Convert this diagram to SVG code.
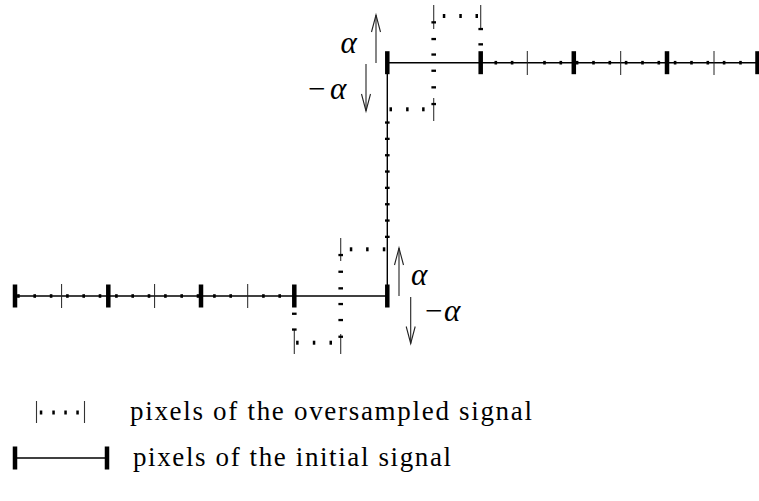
<svg xmlns="http://www.w3.org/2000/svg" width="759" height="501" viewBox="0 0 759 501">
<style>
.main{stroke:#000;stroke-width:1.4;fill:none}
.thick{fill:#000}
.thin{stroke:#222;stroke-width:1;fill:none}
.bar{stroke:#333;stroke-width:1.1;fill:none}
.dot{fill:#000}
.dash{fill:#000}
.arr{stroke:#222;stroke-width:1.1;fill:none}
.lbl{font-family:'Liberation Serif','DejaVu Serif',serif;font-size:31px;font-style:italic;fill:#000}
.txt{font-family:'Liberation Serif','DejaVu Serif',serif;font-size:27px;fill:#000}
</style>
<defs>
<marker id="ah" markerUnits="userSpaceOnUse" markerWidth="20" markerHeight="14" refX="0" refY="0" viewBox="-18 -7 20 14" orient="auto" overflow="visible">
<path d="M-17,-4.5 L0,0 L-17,4.5" stroke="#222" stroke-width="1.1" fill="none"/>
</marker>
<rect id="tk" x="-2.25" y="-11.5" width="4.5" height="23"/>
<rect id="dt" x="-1.2" y="-1.8" width="2.6" height="3.6"/>
<rect id="vd" x="-1.2" y="-2" width="2.5" height="4"/>
<rect id="hd" x="-2.3" y="-1.1" width="4.6" height="2.3"/>
</defs>

<g id="initial-bottom">
<line class="main" x1="15" y1="296" x2="387.3" y2="296"/>
<g class="thin">
<line x1="61.6" y1="284" x2="61.6" y2="308"/>
<line x1="154.6" y1="284" x2="154.6" y2="308"/>
<line x1="247.7" y1="284" x2="247.7" y2="308"/>
</g>
<g class="dot">
<use href="#dt" x="18.3" y="296"/><use href="#dt" x="34.6" y="296"/><use href="#dt" x="51" y="296"/>
<use href="#dt" x="67.3" y="296"/><use href="#dt" x="83.6" y="296"/><use href="#dt" x="99.9" y="296"/>
<use href="#dt" x="116.3" y="296"/><use href="#dt" x="132.6" y="296"/><use href="#dt" x="148.9" y="296"/>
<use href="#dt" x="165.3" y="296"/><use href="#dt" x="181.6" y="296"/><use href="#dt" x="197.9" y="296"/>
<use href="#dt" x="214.3" y="296"/><use href="#dt" x="230.6" y="296"/><use href="#dt" x="263.3" y="296"/>
<use href="#dt" x="279.6" y="296"/>
</g>
<g class="thick">
<use href="#tk" x="15" y="296"/><use href="#tk" x="108.3" y="296"/><use href="#tk" x="201" y="296"/>
<use href="#tk" x="294.3" y="296"/><use href="#tk" x="387.3" y="296"/>
</g>
</g>

<g id="initial-vertical">
<line class="main" x1="387.3" y1="62.7" x2="387.3" y2="296"/>
<g class="dash">
<use href="#hd" x="387.3" y="122.5"/><use href="#hd" x="387.3" y="138.8"/><use href="#hd" x="387.3" y="155.2"/>
<use href="#hd" x="387.3" y="171.5"/><use href="#hd" x="387.3" y="187.8"/><use href="#hd" x="387.3" y="204.2"/>
<use href="#hd" x="387.3" y="220.5"/><use href="#hd" x="387.3" y="236.8"/>
</g>
</g>

<g id="initial-top">
<line class="main" x1="387.3" y1="62.7" x2="759" y2="62.7"/>
<g class="thin">
<line x1="527.3" y1="51" x2="527.3" y2="75"/>
<line x1="620.7" y1="51" x2="620.7" y2="75"/>
<line x1="714" y1="51" x2="714" y2="75"/>
</g>
<g class="dot">
<use href="#dt" x="495.7" y="62.7"/><use href="#dt" x="512" y="62.7"/><use href="#dt" x="544.4" y="62.7"/>
<use href="#dt" x="560.7" y="62.7"/><use href="#dt" x="577" y="62.7"/><use href="#dt" x="593.4" y="62.7"/>
<use href="#dt" x="609.7" y="62.7"/><use href="#dt" x="626" y="62.7"/><use href="#dt" x="642.4" y="62.7"/>
<use href="#dt" x="658.7" y="62.7"/><use href="#dt" x="675" y="62.7"/><use href="#dt" x="691.4" y="62.7"/>
<use href="#dt" x="707.7" y="62.7"/><use href="#dt" x="724" y="62.7"/><use href="#dt" x="740.4" y="62.7"/>
</g>
<g class="thick">
<use href="#tk" x="387.3" y="62.7"/><use href="#tk" x="480.7" y="62.7"/><use href="#tk" x="573.8" y="62.7"/>
<use href="#tk" x="667" y="62.7"/><use href="#tk" x="757.5" y="62.7"/>
</g>
</g>

<g id="oversampled-bottom">
<line class="bar" x1="340.7" y1="238" x2="340.7" y2="261"/>
<line class="bar" x1="294.3" y1="329" x2="294.3" y2="354"/>
<line class="bar" x1="340.7" y1="334" x2="340.7" y2="354"/>
<g class="dot">
<use href="#vd" x="351" y="249.3"/><use href="#vd" x="367.3" y="249.3"/><use href="#vd" x="384" y="249.3"/>
<use href="#vd" x="297.3" y="342.7"/><use href="#vd" x="314" y="342.7"/><use href="#vd" x="330.7" y="342.7"/>
</g>
<g class="dash">
<use href="#hd" x="340.7" y="255"/><use href="#hd" x="340.7" y="271.7"/><use href="#hd" x="340.7" y="288.3"/>
<use href="#hd" x="340.7" y="304"/><use href="#hd" x="340.7" y="320"/><use href="#hd" x="340.7" y="336.7"/>
<use href="#hd" x="294.3" y="313.7"/><use href="#hd" x="294.3" y="329.5"/>
</g>
</g>

<g id="oversampled-top">
<line class="bar" x1="433.7" y1="5" x2="433.7" y2="29"/>
<line class="bar" x1="480.7" y1="5" x2="480.7" y2="29.5"/>
<line class="bar" x1="433.7" y1="98" x2="433.7" y2="121"/>
<g class="dot">
<use href="#vd" x="444" y="16"/><use href="#vd" x="460.5" y="16"/><use href="#vd" x="476.7" y="16"/>
<use href="#vd" x="390.7" y="109.3"/><use href="#vd" x="407.3" y="109.3"/><use href="#vd" x="423.3" y="109.3"/>
</g>
<g class="dash">
<use href="#hd" x="433.7" y="22.3"/><use href="#hd" x="433.7" y="39"/><use href="#hd" x="433.7" y="54.5"/>
<use href="#hd" x="433.7" y="70.7"/><use href="#hd" x="433.7" y="87.3"/><use href="#hd" x="433.7" y="104"/>
<use href="#hd" x="480.7" y="29"/><use href="#hd" x="480.7" y="44.3"/>
</g>
</g>

<g id="connectors">
<line class="arr" x1="376" y1="63" x2="376" y2="15" marker-end="url(#ah)"/>
<line class="arr" x1="366" y1="64" x2="366" y2="111" marker-end="url(#ah)"/>
<line class="arr" x1="399" y1="296" x2="399" y2="248" marker-end="url(#ah)"/>
<line class="arr" x1="410.7" y1="297" x2="410.7" y2="343.5" marker-end="url(#ah)"/>
</g>

<g id="labels">
<text class="lbl" x="340.5" y="53">α</text>
<text class="lbl" x="308" y="98.5"><tspan font-style="normal">−</tspan><tspan x="330">α</tspan></text>
<text class="lbl" x="411" y="285">α</text>
<text class="lbl" x="425" y="320.5"><tspan font-style="normal">−</tspan><tspan x="444">α</tspan></text>
</g>

<g id="legend-oversampled">
<line class="bar" x1="36.5" y1="401" x2="36.5" y2="423"/>
<line class="bar" x1="84.5" y1="401" x2="84.5" y2="423"/>
<g class="dot">
<use href="#vd" x="41" y="412.5"/><use href="#vd" x="53.5" y="412.5"/><use href="#vd" x="65.5" y="412.5"/><use href="#vd" x="77.5" y="412.5"/>
</g>
<text class="txt" x="130" y="420" textLength="402" lengthAdjust="spacing">pixels of the oversampled signal</text>
</g>

<g id="legend-initial">
<line class="main" x1="15" y1="458" x2="107" y2="458"/>
<use class="thick" href="#tk" x="15" y="458"/>
<use class="thick" href="#tk" x="107" y="458"/>
<text class="txt" x="133" y="466" textLength="318" lengthAdjust="spacing">pixels of the initial signal</text>
</g>
</svg>
